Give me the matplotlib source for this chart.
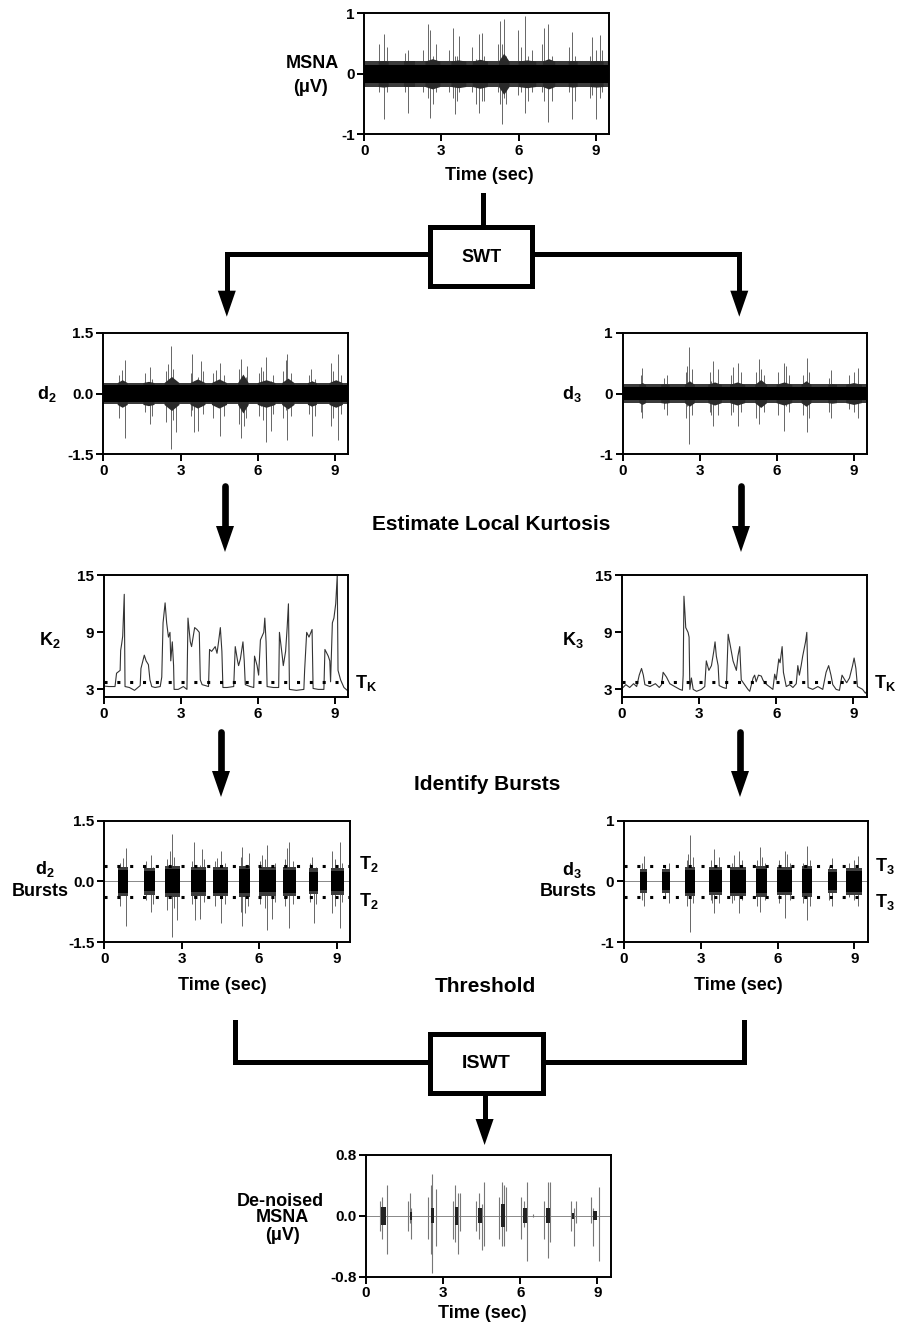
import matplotlib
matplotlib.use('Agg')
import matplotlib.pyplot as plt
from matplotlib.patches import Polygon, Rectangle

plt.rcParams['font.family'] = ['Liberation Sans', 'DejaVu Sans']
plt.rcParams['font.weight'] = 'bold'
plt.rcParams['axes.unicode_minus'] = False
plt.rcParams['mathtext.fontset'] = 'custom'
plt.rcParams['mathtext.rm'] = 'Liberation Sans:bold'
plt.rcParams['mathtext.default'] = 'rm'

# ---- data (time in sec) ----
xticks = [0, 3, 6, 9]

# burst windows (d2 level, also used for raw MSNA)
d2_start = [0.54, 1.54, 2.36, 3.37, 4.20, 5.22, 5.98, 6.93, 7.93, 8.77]
d2_end = [0.93, 1.97, 2.94, 3.95, 4.79, 5.63, 6.67, 7.41, 8.28, 9.29]
d2_bump = [0.34, 0.30, 0.42, 0.36, 0.36, 0.48, 0.34, 0.38, 0.31, 0.34]
d2_block = [0.28, 0.25, 0.30, 0.27, 0.28, 0.30, 0.27, 0.28, 0.24, 0.25]
d2_spk_t = [0.74, 0.84, 1.80, 2.53, 2.62, 2.81, 3.46, 3.52, 3.69, 3.78, 4.37, 4.53,
            5.34, 5.47, 5.60, 6.11, 6.31, 6.50, 7.09, 7.15, 8.06, 8.12, 8.83, 9.13,
            0.62, 1.62, 1.90, 2.44, 2.70, 3.40, 3.88, 4.27, 4.68, 5.28, 5.55, 6.05,
            6.22, 6.60, 7.00, 7.30, 7.98, 8.22, 8.92, 9.22]
d2_spk_hi = [0.57, 0.82, 0.65, 0.74, 1.17, 0.30, 0.98, 0.30, 0.40, 0.80, 0.57, 0.75,
             0.86, 0.30, 0.69, 0.65, 0.90, 0.30, 0.82, 0.97, 0.61, 0.30, 0.75, 0.98,
             0.45, 0.50, 0.35, 0.55, 0.60, 0.50, 0.55, 0.50, 0.45, 0.60, 0.40, 0.50,
             0.55, 0.45, 0.55, 0.50, 0.45, 0.35, 0.55, 0.45]
d2_spk_lo = [-0.30, -1.10, -0.75, -0.30, -1.37, -0.96, -0.40, -0.96, -0.92, -0.30, -0.30, -1.04,
             -1.10, -0.79, -0.30, -0.30, -1.20, -0.92, -0.40, -1.15, -0.30, -1.04, -0.79, -1.15,
             -0.60, -0.45, -0.55, -0.70, -0.65, -0.55, -0.50, -0.60, -0.55, -0.75, -0.60, -0.55,
             -0.65, -0.50, -0.60, -0.55, -0.50, -0.55, -0.60, -0.50]
T2 = 0.39

d3_start = [0.63, 1.48, 2.40, 3.31, 4.16, 5.14, 5.97, 6.94, 7.98, 8.68]
d3_end = [0.89, 1.81, 2.79, 3.84, 4.75, 5.60, 6.58, 7.33, 8.32, 9.29]
d3_bump = [0.18, 0.16, 0.21, 0.19, 0.19, 0.23, 0.19, 0.21, 0.16, 0.18]
d3_block = [0.15, 0.15, 0.19, 0.18, 0.19, 0.20, 0.18, 0.20, 0.15, 0.17]
d3_spk_t = [0.77, 1.74, 2.50, 2.57, 3.45, 3.53, 4.30, 4.50, 5.32, 5.40, 6.28, 6.35, 7.16, 8.12, 9.14,
            0.70, 1.60, 2.45, 2.70, 3.38, 3.70, 4.22, 4.62, 5.20, 5.50, 6.05, 6.48, 7.00, 7.25,
            8.02, 8.80, 9.00]
d3_spk_hi = [0.42, 0.31, 0.45, 0.76, 0.20, 0.53, 0.44, 0.50, 0.56, 0.40, 0.50, 0.45, 0.59, 0.39, 0.42,
             0.30, 0.25, 0.35, 0.40, 0.35, 0.40, 0.30, 0.35, 0.35, 0.30, 0.35, 0.30, 0.30, 0.35,
             0.25, 0.30, 0.35]
d3_spk_lo = [-0.41, -0.36, -0.20, -0.83, -0.35, -0.53, -0.30, -0.53, -0.50, -0.20, -0.61, -0.20, -0.63, -0.41, -0.41,
             -0.30, -0.25, -0.40, -0.35, -0.30, -0.35, -0.35, -0.30, -0.40, -0.30, -0.35, -0.30, -0.35, -0.40,
             -0.30, -0.25, -0.30]
T3 = 0.25

msna_bump = [0.22, 0.21, 0.25, 0.23, 0.24, 0.34, 0.23, 0.25, 0.22, 0.22]
msna_spk_t = [0.56, 0.78, 1.71, 2.49, 2.56, 3.45, 3.54, 3.70, 4.47, 4.58, 5.28, 5.34, 5.43,
              5.99, 6.25, 6.99, 7.16, 8.09, 8.85, 9.01, 9.17,
              0.90, 1.60, 2.30, 2.68, 2.78, 3.30, 3.62, 4.20, 4.35, 4.66, 5.20, 5.52,
              6.10, 6.36, 6.52, 6.90, 7.30, 7.95, 8.20, 8.78, 9.26]
msna_spk_hi = [0.50, 0.66, 0.40, 0.82, 0.72, 0.75, 0.30, 0.62, 0.66, 0.67, 0.88, 0.50, 0.91,
               0.72, 0.95, 0.75, 0.83, 0.69, 0.61, 0.40, 0.64,
               0.45, 0.35, 0.40, 0.30, 0.50, 0.40, 0.30, 0.45, 0.25, 0.30, 0.50, 0.30,
               0.45, 0.30, 0.40, 0.50, 0.30, 0.45, 0.30, 0.30, 0.40]
msna_spk_lo = [-0.30, -0.75, -0.64, -0.40, -0.73, -0.40, -0.66, -0.30, -0.64, -0.45, -0.50, -0.83, -0.40,
               -0.35, -0.64, -0.45, -0.80, -0.75, -0.35, -0.75, -0.40,
               -0.30, -0.30, -0.30, -0.50, -0.30, -0.30, -0.45, -0.30, -0.50, -0.45, -0.30, -0.50,
               -0.30, -0.45, -0.30, -0.30, -0.45, -0.30, -0.45, -0.40, -0.30]

k2_t = [0.0, 0.2, 0.44, 0.5, 0.64, 0.66, 0.7, 0.74, 0.8, 0.83, 1.0, 1.2, 1.42, 1.45, 1.58, 1.65,
        1.74, 1.8, 1.87, 2.0, 2.2, 2.26, 2.31, 2.39, 2.45, 2.52, 2.58, 2.61, 2.67, 2.72, 2.74, 2.9,
        3.1, 3.24, 3.28, 3.37, 3.42, 3.54, 3.63, 3.72, 3.76, 3.83, 3.96, 4.08, 4.12, 4.2, 4.34, 4.41,
        4.47, 4.54, 4.6, 4.64, 4.8, 5.06, 5.12, 5.21, 5.25, 5.32, 5.42, 5.47, 5.51, 5.7, 5.84, 5.87,
        5.97, 6.03, 6.1, 6.23, 6.27, 6.32, 6.36, 6.6, 6.81, 6.84, 6.95, 6.99, 7.08, 7.14, 7.19, 7.23,
        7.5, 7.79, 7.82, 7.9, 7.99, 8.11, 8.15, 8.35, 8.57, 8.61, 8.74, 8.8, 8.83, 8.9, 8.96, 9.03,
        9.09, 9.12, 9.22, 9.35, 9.52]
k2_v = [3.35, 3.3, 3.3, 4.7, 5.0, 7.1, 7.8, 8.6, 13.0, 3.3, 3.2, 2.9, 3.4, 5.2, 6.6, 6.0,
        5.6, 4.0, 3.3, 3.2, 3.3, 4.3, 10.0, 12.1, 10.0, 8.5, 9.0, 6.0, 8.0, 5.5, 3.0, 3.0,
        3.3, 3.0, 10.5, 8.0, 7.5, 9.5, 9.3, 9.0, 4.0, 3.5, 3.4, 3.3, 7.2, 7.0, 7.5, 6.8,
        8.0, 9.5, 7.0, 3.2, 3.2, 3.3, 7.5, 6.0, 5.5, 6.2, 8.0, 6.0, 3.5, 3.3, 3.2, 6.5,
        5.5, 4.5, 8.2, 9.0, 10.5, 8.0, 3.3, 3.2, 3.2, 9.0, 6.5, 5.5, 7.0, 9.5, 12.0, 3.0,
        2.9, 3.0, 5.0, 9.0, 8.5, 9.3, 3.1, 3.0, 3.0, 7.2, 6.5, 6.0, 3.8, 10.0, 10.5, 12.0,
        15.0, 5.0, 4.0, 3.2, 2.8]

k3_t = [0.0, 0.15, 0.3, 0.45, 0.57, 0.67, 0.76, 0.83, 0.89, 1.09, 1.3, 1.45, 1.54, 1.6, 1.73, 1.86,
        2.05, 2.25, 2.35, 2.38, 2.41, 2.45, 2.48, 2.57, 2.61, 2.64, 2.7, 2.77, 2.9, 3.09, 3.22, 3.28,
        3.38, 3.48, 3.57, 3.62, 3.67, 3.74, 3.78, 3.93, 4.06, 4.13, 4.22, 4.32, 4.45, 4.51, 4.58, 4.64,
        4.77, 4.9, 4.97, 5.1, 5.16, 5.22, 5.31, 5.42, 5.48, 5.55, 5.68, 5.87, 5.94, 6.0, 6.1, 6.15,
        6.23, 6.28, 6.39, 6.52, 6.65, 6.78, 6.84, 6.9, 6.97, 7.03, 7.14, 7.19, 7.24, 7.42, 7.62, 7.81,
        7.94, 8.04, 8.13, 8.2, 8.33, 8.46, 8.56, 8.69, 8.74, 8.85, 8.97, 9.03, 9.1, 9.16, 9.36, 9.47,
        9.52]
k3_v = [3.1, 3.5, 3.2, 3.6, 3.3, 4.5, 5.2, 4.5, 3.5, 3.3, 3.6, 3.2, 3.5, 4.8, 4.3, 3.6,
        3.3, 3.0, 2.9, 4.5, 12.8, 11.0, 9.5, 9.0, 8.5, 3.0, 4.2, 3.0, 2.8, 3.0, 3.3, 6.0,
        5.0, 5.5, 7.0, 8.0, 6.5, 5.5, 3.4, 3.2, 3.1, 8.8, 7.5, 6.0, 5.0, 6.5, 7.5, 4.0,
        3.5, 3.0, 2.8, 4.2, 4.5, 3.8, 4.5, 4.4, 4.0, 3.7, 3.4, 3.0, 4.6, 4.0, 6.2, 5.8,
        7.5, 4.8, 3.3, 3.5, 3.2, 3.6, 5.5, 4.5, 5.5, 6.5, 8.0, 9.0, 3.2, 3.0, 3.3, 3.0,
        4.8, 5.5, 4.5, 3.5, 3.0, 2.9, 4.5, 3.9, 3.7, 4.2, 5.5, 6.3, 5.2, 3.3, 3.0, 2.6,
        2.8]
TK = 3.76

den_start = [0.60, 1.70, 2.52, 3.45, 4.35, 5.25, 6.10, 7.00, 8.02, 8.82]
den_end = [0.76, 1.78, 2.66, 3.58, 4.52, 5.40, 6.25, 7.15, 8.10, 8.98]
den_core = [0.12, 0.05, 0.10, 0.12, 0.10, 0.15, 0.10, 0.10, 0.04, 0.06]
den_spk_t = [0.55, 0.64, 0.80, 1.64, 1.73, 1.77, 2.42, 2.52, 2.58, 2.74, 3.38, 3.48, 3.57, 3.64,
             4.29, 4.38, 4.50, 4.61, 5.19, 5.30, 5.38, 5.45, 6.03, 6.15, 6.28, 6.49, 6.94, 7.07,
             7.15, 7.97, 8.10, 8.17, 8.77, 8.85, 9.08]
den_spk_hi = [0.20, 0.25, 0.40, 0.20, 0.30, 0.10, 0.25, 0.40, 0.55, 0.35, 0.20, 0.40, 0.30, 0.30,
              0.20, 0.30, 0.15, 0.45, 0.25, 0.45, 0.40, 0.38, 0.25, 0.20, 0.45, 0.02, 0.20, 0.45,
              0.45, 0.20, 0.10, 0.20, 0.25, 0.10, 0.38]
den_spk_lo = [-0.20, -0.30, -0.50, -0.20, -0.10, -0.30, -0.30, -0.50, -0.75, -0.40, -0.30, -0.35, -0.50, -0.20,
              -0.20, -0.30, -0.45, -0.40, -0.30, -0.40, -0.40, -0.20, -0.30, -0.15, -0.60, -0.02, -0.30, -0.55,
              -0.35, -0.20, -0.40, -0.10, -0.10, -0.40, -0.60]

W, H = 897, 1325
fig = plt.figure(figsize=(W / 100, H / 100), dpi=100)


def panel(x0, y0, x1, y1, ylim, yticks, ylabels):
    ax = fig.add_axes([x0 / W, 1 - y1 / H, (x1 - x0) / W, (y1 - y0) / H])
    ax.set_xlim(0, 9.52)
    ax.set_ylim(*ylim)
    ax.set_xticks(xticks)
    ax.set_xticklabels([str(v) for v in xticks])
    ax.set_yticks(yticks)
    ax.set_yticklabels(ylabels)
    for s in ax.spines.values():
        s.set_linewidth(1.4)
        s.set_zorder(6)
    ax.tick_params(direction='out', length=5, width=1.4, labelsize=11, pad=2)
    return ax


def raw(ax, core, fringe, starts, ends, bumps, st, shi, slo):
    ax.vlines(st, slo, shi, color='#666666', lw=0.7, zorder=1)
    ax.axhspan(-fringe, fringe, color='#3c3c3c', lw=0, zorder=1.5)
    for s, e, h in zip(starts, ends, bumps):
        m = (s + e) / 2
        ax.fill_between([s, m, e], [-fringe, -h, -fringe], [fringe, h, fringe],
                        color='#2a2a2a', lw=0, zorder=1.6)
    ax.axhspan(-core, core, color='black', lw=0, zorder=2)


def bursts(ax, starts, ends, blocks, extra, st, shi, slo, thr):
    ax.axhline(0, color='#888888', lw=0.7, zorder=1)
    ax.vlines(st, slo, shi, color='#666666', lw=0.7, zorder=2)
    for s, e, h in zip(starts, ends, blocks):
        ax.fill_between([s, e], [-h - extra] * 2, [h + extra] * 2, color='#3c3c3c', lw=0, zorder=3)
        ax.fill_between([s, e], [-h] * 2, [h] * 2, color='black', lw=0, zorder=3)
    for v in (thr, -thr):
        ax.axhline(v, color='black', lw=2.2, ls=(0, (1, 3.2)), zorder=4)


def ftext(x, y, s, size=13, ha='center'):
    fig.text(x / W, 1 - y / H, s, ha=ha, va='center', fontsize=size, fontweight='bold')


# MSNA
ax = panel(364.3, 13.3, 609, 134.3, (-1, 1), [-1, 0, 1], ['-1', '0', '1'])
raw(ax, 0.15, 0.21, d2_start, d2_end, msna_bump, msna_spk_t, msna_spk_hi, msna_spk_lo)
ftext(312, 64, 'MSNA')
ftext(311, 88, '(μV)')
ftext(489, 175, 'Time (sec)')

# d2 / d3
ax = panel(103.3, 332.7, 348.3, 454.3, (-1.5, 1.5), [-1.5, 0, 1.5], ['-1.5', '0.0', '1.5'])
raw(ax, 0.2, 0.27, d2_start, d2_end, d2_bump, d2_spk_t, d2_spk_hi, d2_spk_lo)
ftext(47, 394, 'd$_2$')
ax = panel(622.7, 332.7, 867.3, 454.3, (-1, 1), [-1, 0, 1], ['-1', '0', '1'])
raw(ax, 0.11, 0.15, d3_start, d3_end, d3_bump, d3_spk_t, d3_spk_hi, d3_spk_lo)
ftext(572, 394, 'd$_3$')

# kurtosis
for x0, x1, kt, kv, lab, lx in [(103.7, 348.3, k2_t, k2_v, 'K$_2$', 50),
                                (622.0, 866.7, k3_t, k3_v, 'K$_3$', 573)]:
    ax = panel(x0, 575.3, x1, 697, (2.2, 15), [3, 9, 15], ['3', '9', '15'])
    ax.plot(kt, kv, color='#333333', lw=0.8)
    ax.axhline(TK, color='black', lw=2.2, ls=(0, (1, 3.2)))
    ftext(lx, 640, lab)
    ftext(x1 + 7, 683, 'T$_K$', 13, ha='left')

# bursts
ax = panel(104.3, 820.7, 350, 942, (-1.5, 1.5), [-1.5, 0, 1.5], ['-1.5', '0.0', '1.5'])
bursts(ax, d2_start, d2_end, d2_block, 0.08, d2_spk_t, d2_spk_hi, d2_spk_lo, T2)
ftext(45, 869, 'd$_2$')
ftext(40, 891, 'Bursts')
ftext(359, 864, 'T$_2$', 13, ha='left')
ftext(359, 901, 'T$_2$', 13, ha='left')
ftext(222, 985, 'Time (sec)')

ax = panel(624, 820.7, 867.7, 942, (-1, 1), [-1, 0, 1], ['-1', '0', '1'])
bursts(ax, d3_start, d3_end, d3_block, 0.05, d3_spk_t, d3_spk_hi, d3_spk_lo, T3)
ftext(572, 870, 'd$_3$')
ftext(568, 892, 'Bursts')
ftext(875, 866, 'T$_3$', 13, ha='left')
ftext(875, 902, 'T$_3$', 13, ha='left')
ftext(738, 985, 'Time (sec)')

# de-noised
ax = panel(366, 1155, 610.7, 1276.7, (-0.8, 0.8), [-0.8, 0, 0.8], ['-0.8', '0.0', '0.8'])
ax.axhline(0, color='#888888', lw=0.7, zorder=1)
ax.vlines(den_spk_t, den_spk_lo, den_spk_hi, color='#777777', lw=0.8, zorder=2)
for s, e, h in zip(den_start, den_end, den_core):
    ax.fill_between([s, e], [-h] * 2, [h] * 2, color='#222222', lw=0, zorder=3)
ftext(280, 1201, 'De-noised')
ftext(282, 1218, 'MSNA')
ftext(282, 1235, '(μV)')
ftext(482, 1314, 'Time (sec)')

# flowchart overlay in pixel coords
ov = fig.add_axes([0, 0, 1, 1], zorder=-1)
ov.set_xlim(0, W)
ov.set_ylim(H, 0)
ov.axis('off')


def line(xs, ys, lw=3.6):
    ov.plot(xs, ys, color='black', lw=lw, solid_capstyle='projecting', solid_joinstyle='miter')


def head(x, tip, hl=26, hw=18):
    ov.add_patch(Polygon([[x - hw / 2, tip - hl], [x + hw / 2, tip - hl], [x, tip]],
                         closed=True, color='black', lw=0))


def arrow(x, y0, tip, lw=4.8):
    ov.plot([x, x], [y0, tip - 24], color='black', lw=lw, solid_capstyle='round')
    head(x, tip)


# SWT
line([483, 483], [195, 226])
ov.add_patch(Rectangle((430.4, 226.7), 101.6, 59, fill=False, lw=3.6, joinstyle='miter'))
line([430.4, 226.8, 226.8], [254, 254, 292])
line([532, 739.3, 739.3], [254, 254, 292])
head(226.8, 316.7)
head(739.3, 316.7)
ftext(482, 257, 'SWT', 13)

arrow(225, 486, 552)
arrow(741, 486, 552)
ftext(491, 525, 'Estimate Local Kurtosis', 15)

arrow(221, 732, 797)
arrow(740, 732, 797)
ftext(487, 785, 'Identify Bursts', 15)
ftext(485, 987, 'Threshold', 15)

# ISWT
line([234.6, 234.6, 430.4], [1022, 1061.7, 1061.7])
line([542.9, 744, 744], [1061.7, 1061.7, 1022])
ov.add_patch(Rectangle((430.4, 1034), 112.5, 59.3, fill=False, lw=3.6, joinstyle='miter'))
ftext(486, 1063, 'ISWT', 14)
line([484.6, 484.6], [1094, 1122])
head(484.6, 1145)

fig.savefig('out.png', dpi=100)
